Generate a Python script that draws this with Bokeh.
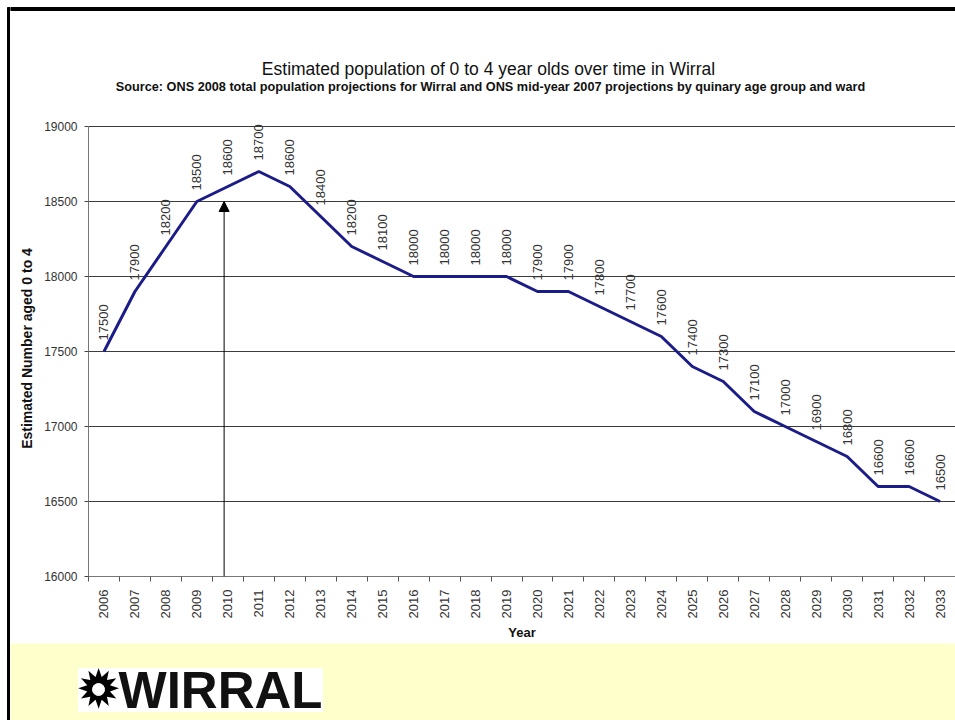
import math
from bokeh.plotting import figure
from bokeh.layouts import row, column
from bokeh.models import Range1d, FixedTicker, Arrow, NormalHead, ColumnDataSource, LabelSet
from bokeh.core.properties import value
from bokeh.embed import file_html
from bokeh.resources import INLINE

# ---------------- data ----------------
years = list(range(2006, 2034))
population = [17500, 17900, 18200, 18500, 18600, 18700, 18600, 18400, 18200, 18100,
              18000, 18000, 18000, 18000, 17900, 17900, 17800, 17700, 17600, 17400,
              17300, 17100, 17000, 16900, 16800, 16600, 16600, 16500]
point_labels = [str(v) for v in population]
y_ticks = [16000, 16500, 17000, 17500, 18000, 18500, 19000]
y_min, y_max = 16000, 19000
y_headroom = 40          # a little room above 19000 so the top point label is not clipped
arrow_year = 2009.88
arrow_top = 18500

title_text = "Estimated population of 0 to 4 year olds over time in Wirral"
subtitle_text = ("Source: ONS 2008 total population projections for Wirral and ONS mid-year 2007 "
                 "projections by quinary age group and ward")
x_label = "Year"
y_label = "Estimated Number aged 0 to 4"
logo_text = "WIRRAL"

FONT = "Liberation Sans"
W = 945          # width of the column right of the border strip
TOP_H, MAIN_H, FOOT_H = 116, 527, 77


def bare(width, height, xr, yr):
    f = figure(width=width, height=height, x_range=xr, y_range=yr,
               min_border=0, toolbar_location=None, output_backend="svg",
               x_axis_location=None, y_axis_location=None)
    f.grid.visible = False
    f.outline_line_color = None
    f.frame_align = False
    return f


# ---------------- main chart ----------------
p = figure(width=W, height=MAIN_H,
           x_range=Range1d(years[0] - 0.5, years[-1] + 0.5),
           y_range=Range1d(y_min, y_max + y_headroom),
           output_backend="svg", toolbar_location=None,
           min_border_left=78, min_border_right=0, min_border_top=4, min_border_bottom=67,
           x_axis_label=x_label, y_axis_label=y_label)
p.frame_align = False
p.outline_line_color = None
p.background_fill_color = "white"
p.border_fill_color = "white"

yt = FixedTicker(ticks=y_ticks)
p.yaxis.ticker = yt
p.yaxis.bounds = (y_min, y_max)
p.ygrid.ticker = yt
p.ygrid.grid_line_color = "#3c3c3c"
p.ygrid.grid_line_width = 1
p.xgrid.visible = False

p.xaxis.ticker = FixedTicker(ticks=years, minor_ticks=[y - 0.5 for y in years] + [years[-1] + 0.5])
p.xaxis.major_tick_out = 0
p.xaxis.major_tick_in = 0
p.xaxis.minor_tick_out = 5
p.xaxis.minor_tick_in = 0
p.xaxis.minor_tick_line_color = "#555"
p.xaxis.major_label_orientation = math.pi / 2
p.xaxis.major_label_standoff = 8
p.xaxis.axis_label_standoff = 4

p.yaxis.major_tick_out = 4
p.yaxis.major_tick_in = 0
p.yaxis.minor_tick_out = 0
p.yaxis.minor_tick_in = 0
p.yaxis.major_tick_line_color = "#444"
p.yaxis.major_label_standoff = 7
p.yaxis.axis_label_standoff = 6

for ax in (p.xaxis[0], p.yaxis[0]):
    ax.axis_line_color = "#777"
    ax.major_label_text_font = FONT
    ax.major_label_text_color = "#333"
    ax.axis_label_text_font = FONT
    ax.axis_label_text_font_style = "bold"
    ax.axis_label_text_color = "#111"
p.xaxis.axis_label_text_font_size = "13px"
p.yaxis.axis_label_text_font_size = "14px"
p.xaxis.major_label_text_font_size = "13px"
p.yaxis.major_label_text_font_size = "12px"

src = ColumnDataSource(dict(year=years, pop=population, lab=point_labels))
p.line("year", "pop", source=src, line_color="#1c1c88", line_width=3)
p.add_layout(LabelSet(x="year", y="pop", text="lab", source=src, angle=math.pi / 2,
                      text_align="left", text_baseline="middle", y_offset=11,
                      text_font=value(FONT), text_font_size="13px", text_color="#333"))

p.add_layout(Arrow(end=NormalHead(size=10, fill_color="black", line_color="black"),
                   x_start=arrow_year, y_start=y_min, x_end=arrow_year, y_end=arrow_top,
                   line_color="black", line_width=1))

# ---------------- title band ----------------
t = bare(W, TOP_H, Range1d(0, W), Range1d(TOP_H, 0))
t.border_fill_color = "white"
t.background_fill_color = "white"
t.quad(left=[0], right=[W], top=[7], bottom=[10], color="black")
t.text(x=[478], y=[68], text=[title_text], text_align="center", text_baseline="middle",
       text_font=value(FONT), text_font_size="17.5px", text_color="#111")
t.text(x=[480], y=[86], text=[subtitle_text], text_align="center", text_baseline="middle",
       text_font=value(FONT), text_font_size="12.7px", text_font_style="bold", text_color="#111")

# ---------------- yellow footer with logo ----------------
b = bare(W, FOOT_H, Range1d(0, W), Range1d(FOOT_H, 0))
b.background_fill_color = "#FFFFCC"
b.border_fill_color = "#FFFFCC"
b.quad(left=[68], right=[312], top=[25], bottom=[68], color="white")
b.text(x=[88], y=[46], text=["\u2739"], text_align="center", text_baseline="middle",
       text_font=value("DejaVu Sans"), text_font_size="54px", text_color="black")
b.scatter(x=[88], y=[46], size=12, marker="circle", color="white")
b.text(x=[108], y=[47], text=[logo_text], text_align="left", text_baseline="middle",
       text_font=value(FONT), text_font_size="51px", text_font_style="bold", text_color="#111")

# ---------------- left border strip ----------------
s = bare(10, TOP_H + MAIN_H + FOOT_H, Range1d(0, 10), Range1d(TOP_H + MAIN_H + FOOT_H, 0))
s.background_fill_color = "white"
s.border_fill_color = "white"
s.quad(left=[7], right=[10], top=[7], bottom=[TOP_H + MAIN_H + FOOT_H], color="black")

layout = row(s, column(t, p, b))
open("out.html", "w").write(file_html(layout, INLINE))
